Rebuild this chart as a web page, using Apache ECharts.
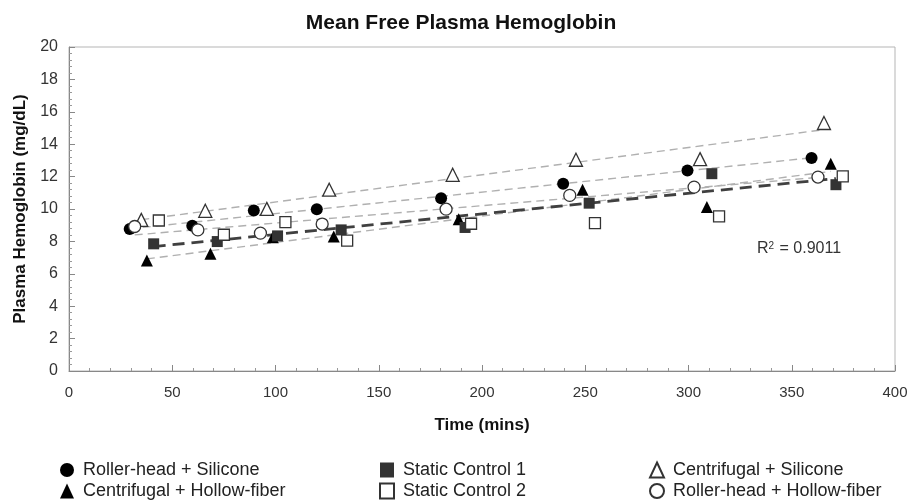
<!DOCTYPE html>
<html>
<head>
<meta charset="utf-8">
<script src="https://cdn.jsdelivr.net/npm/echarts@6/dist/echarts.min.js"></script>
<style>
  html, body { margin: 0; padding: 0; background: #fff; }
  #chart { width: 913px; height: 504px; }
</style>
</head>
<body>
<div id="chart"></div>
<script>
// sample times (mins) and mean free plasma hemoglobin (mg/dL) per circuit
const rhSilT = [29.4, 59.7, 89.5, 120, 180.2, 239.3, 299.5, 359.6]
const rhSilV = [8.76, 8.96, 9.91, 9.99, 10.67, 11.56, 12.38, 13.15]
const cfHfT = [37.7, 68.5, 98.7, 128.2, 188.7, 248.7, 308.9, 368.9]
const cfHfV = [6.82, 7.23, 8.26, 8.3, 9.37, 11.19, 10.12, 12.79]
const sc1T = [41, 71.8, 101, 131.8, 191.8, 251.9, 311.3, 371.4]
const sc1V = [7.85, 7.99, 8.34, 8.71, 8.86, 10.36, 12.18, 11.5]
const sc2T = [43.5, 75, 104.8, 134.7, 194.7, 254.7, 314.8, 374.7]
const sc2V = [9.29, 8.41, 9.19, 8.05, 9.09, 9.13, 9.54, 12.01]
const cfSilT = [35, 66, 95.8, 126, 185.8, 245.5, 305.6, 365.6]
const cfSilV = [9.33, 9.89, 10.01, 11.19, 12.11, 13.04, 13.08, 15.31]
const rhHfT = [31.8, 62.4, 92.7, 122.6, 182.6, 242.5, 302.7, 362.7]
const rhHfV = [8.92, 8.71, 8.51, 9.07, 9.99, 10.84, 11.35, 11.97]

// trendline end points: [t0, v0, t1, v1]
const trendRhSil = [29.4, 8.78, 359.6, 13.16]
const trendCfHf = [37.7, 6.92, 368.9, 12.32]
const trendCfSil = [35, 9.34, 365.6, 14.9]
const trendRhHf = [31.8, 8.4, 362.7, 11.95]
const trendSc1 = [41, 7.68, 371.4, 11.88]
const r2Label = '0.9011'

const col1 = ['Roller-head + Silicone', 'Centrifugal + Hollow-fiber']
const col2 = ['Static Control 1', 'Static Control 2']
const col3 = ['Centrifugal + Silicone', 'Roller-head + Hollow-fiber']

const pairs = (t, v) => t.map((x, i) => [x, v[i]])
const seg = (p) => [[p[0], p[1]], [p[2], p[3]]]

function trend(p, dark) {
  return {
    type: 'line',
    data: seg(p),
    symbol: 'none',
    silent: true,
    z: 1,
    lineStyle: dark
      ? { color: '#404040', width: 2.8, type: [12, 7] }
      : { color: '#b0b0b0', width: 1.4, type: [8, 5] },
  }
}

function scatter(name, t, v, symbol, size, fill, stroke) {
  return {
    name,
    type: 'scatter',
    data: pairs(t, v),
    symbol,
    symbolSize: size,
    z: 3,
    itemStyle: { color: fill, borderColor: stroke, borderWidth: stroke ? 1.3 : 0, opacity: 1 },
  }
}

function legendCol(left, data) {
  return {
    data,
    orient: 'vertical',
    left,
    top: 461,
    padding: 0,
    itemGap: 3,
    itemWidth: 14,
    itemHeight: 15,
    selectedMode: false,
    textStyle: { fontSize: 18, color: '#222', fontFamily: 'Liberation Sans, Arial', padding: [0, 0, 0, 4] },
  }
}

const chart = echarts.init(document.getElementById('chart'))
chart.setOption({
  animation: false,
  title: {
    text: 'Mean Free Plasma Hemoglobin',
    left: 456,
    textAlign: 'center',
    top: 8,
    textStyle: { fontSize: 21, fontWeight: 'bold', color: '#111', fontFamily: 'Liberation Sans, Arial' },
  },
  grid: { left: 69, right: 18, top: 47, bottom: 133, show: true, borderColor: '#b5b5b5', borderWidth: 1 },
  xAxis: {
    type: 'value',
    min: 0,
    max: 400,
    interval: 50,
    name: 'Time (mins)',
    nameLocation: 'middle',
    nameGap: 46,
    nameTextStyle: { fontSize: 17, fontWeight: 'bold', color: '#111', fontFamily: 'Liberation Sans, Arial' },
    axisLine: { lineStyle: { color: '#888' } },
    axisTick: { inside: true, length: 6, lineStyle: { color: '#888' } },
    minorTick: { show: true, splitNumber: 5, length: 3, lineStyle: { color: '#999' } },
    splitLine: { show: false },
    axisLabel: { fontSize: 15, color: '#333', margin: 14, fontFamily: 'Liberation Sans, Arial' },
  },
  yAxis: {
    type: 'value',
    min: 0,
    max: 20,
    interval: 2,
    name: 'Plasma Hemoglobin (mg/dL)',
    nameLocation: 'middle',
    nameGap: 39,
    nameTextStyle: { fontSize: 17, fontWeight: 'bold', color: '#111', fontFamily: 'Liberation Sans, Arial' },
    axisLine: { show: true, lineStyle: { color: '#888' } },
    axisTick: { inside: true, length: 6, lineStyle: { color: '#888' } },
    minorTick: { show: true, splitNumber: 5, length: 3, lineStyle: { color: '#999' } },
    splitLine: { show: false },
    axisLabel: { fontSize: 16, color: '#333', margin: 11, fontFamily: 'Liberation Sans, Arial' },
  },
  legend: [legendCol(60, col1), legendCol(379, col2), legendCol(649, col3)],
  graphic: [
    {
      type: 'text',
      left: 757,
      top: 241,
      style: {
        text: 'R{sup|2} = ' + r2Label,
        font: '16px Liberation Sans, Arial',
        fill: '#333',
        rich: {
          sup: { fontSize: 10, verticalAlign: 'top', padding: [0, 1, 6, 0], fill: '#333' },
        },
      },
    },
  ],
  series: [
    trend(trendCfSil, false),
    trend(trendRhSil, false),
    trend(trendCfHf, false),
    trend(trendRhHf, false),
    trend(trendSc1, true),
    scatter(col1[0], rhSilT, rhSilV, 'circle', 12, '#000', null),
    scatter(col1[1], cfHfT, cfHfV, 'triangle', 12, '#000', null),
    scatter(col2[0], sc1T, sc1V, 'rect', 11, '#333', null),
    scatter(col2[1], sc2T, sc2V, 'rect', 11, '#fff', '#333'),
    scatter(col3[0], cfSilT, cfSilV, 'triangle', 13, '#fff', '#333'),
    scatter(col3[1], rhHfT, rhHfV, 'circle', 12, '#fff', '#333'),
  ],
})
</script>
</body>
</html>
